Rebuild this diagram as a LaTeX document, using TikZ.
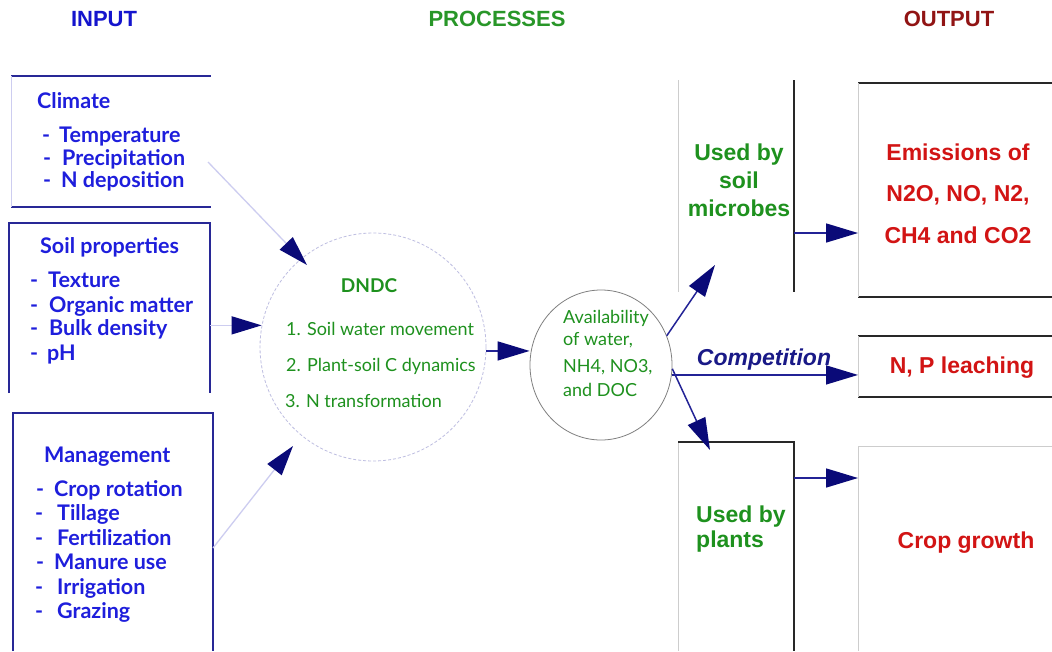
\documentclass[tikz,border=0pt]{standalone}
\usepackage{fontspec}
\setmainfont{Lato}
\newfontfamily\gill{Lato}
\newfontfamily\arial{Liberation Sans}
\usetikzlibrary{arrows.meta,shapes.geometric}
\definecolor{inblue}{RGB}{30,30,220}
\definecolor{hblue}{RGB}{20,20,205}
\definecolor{boxnavy}{RGB}{40,40,150}
\definecolor{arrnavy}{RGB}{10,10,120}
\definecolor{linenavy}{RGB}{35,35,150}
\definecolor{faintblue}{RGB}{205,205,240}
\definecolor{ellgray}{RGB}{190,190,225}
\definecolor{dgreen}{RGB}{30,145,30}
\definecolor{hgreen}{RGB}{40,150,40}
\definecolor{dred}{RGB}{210,20,20}
\definecolor{hred}{RGB}{145,20,20}
\definecolor{lgray}{RGB}{205,205,205}
\definecolor{dgray}{RGB}{40,40,40}
\definecolor{compnavy}{RGB}{25,25,135}
\tikzset{
  ghost/.style={inner sep=0pt, outer sep=0pt},
  hdr/.style={anchor=base, inner sep=0pt, font=\arial\bfseries\fontsize{22}{24}\selectfont},
  intxt/.style={anchor=base west, inner sep=0pt, text=inblue, font=\gill\bfseries\fontsize{21.5}{23}\selectfont},
  proctxt/.style={anchor=base west, inner sep=0pt, text=dgreen, font=\gill\fontsize{18}{20}\selectfont},
  gtxt/.style={anchor=base, inner sep=0pt, text=dgreen, font=\arial\bfseries\fontsize{23}{25}\selectfont},
  rtxt/.style={anchor=base, inner sep=0pt, text=dred, font=\arial\bfseries\fontsize{23}{25}\selectfont},
  navyedge/.style={draw=boxnavy, line width=1.6pt},
  darkedge/.style={draw=dgray, line width=1.4pt},
  lightedge/.style={draw=lgray, line width=1pt},
  faintedge/.style={draw=faintblue, line width=1pt},
  inarrow/.style={draw=faintblue, line width=1.3pt, -{Triangle[length=30pt,width=18pt,fill=arrnavy,color=arrnavy]}},
  outarrow/.style={draw=linenavy, line width=1.5pt, -{Triangle[length=32pt,width=19pt,fill=arrnavy,color=arrnavy]}}
}
\begin{document}
\begin{tikzpicture}[x=1pt,y=-1pt]
\useasboundingbox (0,0) rectangle (1052,651);
\fill[white] (0,0) rectangle (1052,651);

% headers
\node[hdr, text=hblue] (hin) at (104,26) {INPUT};
\node[hdr, text=hgreen] (hproc) at (497,26) {PROCESSES};
\node[hdr, text=hred] (hout) at (949,26) {OUTPUT};

% box frames (invisible nodes)
\node[ghost, minimum width=200pt, minimum height=131pt] (climate) at (111,141.5) {};
\node[ghost, minimum width=201pt, minimum height=170pt] (soil) at (109.5,308) {};
\node[ghost, minimum width=200pt, minimum height=238pt] (mgmt) at (113,532) {};
\node[ghost, minimum width=116pt, minimum height=212pt] (micro) at (736,186) {};
\node[ghost, minimum width=194pt, minimum height=214pt] (emis) at (955,190) {};
\node[ghost, minimum width=194pt, minimum height=61pt] (leach) at (955,366.5) {};
\node[ghost, minimum width=116pt, minimum height=209pt] (plants) at (736,546.5) {};
\node[ghost, minimum width=194pt, minimum height=205pt] (crop) at (955,548.5) {};

% climate box
\draw[navyedge] (climate.north west) -- (climate.north east);
\draw[navyedge] (climate.south west) -- (climate.south east);
\draw[faintedge] (climate.north west) -- (climate.south west);
% soil box
\draw[navyedge] (soil.south west) -- (soil.north west) -- (soil.north east) -- (soil.south east);
% management box
\draw[navyedge] (mgmt.south west) -- (mgmt.north west) -- (mgmt.north east) -- (mgmt.south east);
% microbes
\draw[lightedge] (micro.north west) -- (micro.south west);
\draw[darkedge] (micro.north east) -- (micro.south east);
% emissions
\draw[darkedge] (emis.north west) -- (emis.north east);
\draw[darkedge] (emis.south west) -- (emis.south east);
\draw[lightedge] (emis.north west) -- (emis.south west);
% leaching
\draw[darkedge] (leach.north west) -- (leach.north east);
\draw[darkedge] (leach.south west) -- (leach.south east);
\draw[lightedge] (leach.north west) -- (leach.south west);
% plants
\draw[lightedge] (plants.north west) -- (plants.south west);
\draw[darkedge] (plants.north west) -- (plants.north east) -- (plants.south east);
% crop
\draw[lightedge] (crop.north east) -- (crop.north west) -- (crop.south west);

% ellipses
\node[ellipse, draw=ellgray, dashed, dash pattern=on 3pt off 2pt, line width=0.8pt, minimum width=226pt, minimum height=228pt, inner sep=0pt] (dndc) at (373,347) {};
\node[ellipse, draw=gray, line width=0.8pt, minimum width=142pt, minimum height=150pt, inner sep=0pt] (avail) at (601,365) {};

% input texts
\node[intxt] (c0) at (37,108) {Climate};
\node[intxt] (c1) at (59,142) {\llap{\makebox[17pt][l]{-}}Temperature};
\node[intxt] (c2) at (62,165) {\llap{\makebox[19pt][l]{-}}Precipitation};
\node[intxt] (c3) at (61,187) {\llap{\makebox[18pt][l]{-}}N deposition};

\node[intxt] (s0) at (40,253) {Soil properties};
\node[intxt] (s1) at (48,287) {\llap{\makebox[18pt][l]{-}}Texture};
\node[intxt] (s2) at (49,312) {\llap{\makebox[19pt][l]{-}}Organic matter};
\node[intxt] (s3) at (49,335) {\llap{\makebox[19pt][l]{-}}Bulk density};
\node[intxt] (s4) at (47,360) {\llap{\makebox[17pt][l]{-}}pH};

\node[intxt] (m0) at (44,462) {Management};
\node[intxt] (m1) at (54,496) {\llap{\makebox[18pt][l]{-}}Crop rotation};
\node[intxt] (m2) at (57,520) {\llap{\makebox[22pt][l]{-}}Tillage};
\node[intxt] (m3) at (57,545) {\llap{\makebox[22pt][l]{-}}Fertilization};
\node[intxt] (m4) at (54,569) {\llap{\makebox[18pt][l]{-}}Manure use};
\node[intxt] (m5) at (57,594) {\llap{\makebox[22pt][l]{-}}Irrigation};
\node[intxt] (m6) at (57,618) {\llap{\makebox[22pt][l]{-}}Grazing};

% process texts
\node[anchor=base, inner sep=0pt, text=dgreen, font=\gill\bfseries\fontsize{19}{21}\selectfont] (dn) at (369,292) {DNDC};
\node[proctxt] (p1) at (286,335) {1. Soil water movement};
\node[proctxt] (p2) at (286,371) {2. Plant-soil C dynamics};
\node[proctxt] (p3) at (285,407) {3. N transformation};

\node[proctxt] (a1) at (563,323) {Availability};
\node[proctxt] (a2) at (563,345) {of water,};
\node[proctxt] (a3) at (563,372) {NH4, NO3,};
\node[proctxt] (a4) at (563,396) {and DOC};

% output-side texts
\node[gtxt] (u1) at (739,160) {Used by};
\node[gtxt] (u2) at (739,188) {soil};
\node[gtxt] (u3) at (739,216) {microbes};
\node[gtxt, anchor=base west] (v1) at (696,522) {Used by};
\node[gtxt, anchor=base west] (v2) at (696,547) {plants};

\node[rtxt] (e1) at (958,160) {Emissions of};
\node[rtxt] (e2) at (958,201) {N2O, NO, N2,};
\node[rtxt] (e3) at (958,243) {CH4 and CO2};
\node[rtxt] (lch) at (962,373) {N, P leaching};
\node[rtxt] (cg) at (966,548) {Crop growth};

\node[anchor=base, inner sep=0pt, text=compnavy, font=\arial\bfseries\itshape\fontsize{23}{25}\selectfont] (comp) at (764,365) {Competition};

% arrow end points
\coordinate (ctip) at (307,265);
\coordinate (mtip) at (293,446);
\coordinate (mictip) at (715,265);
\coordinate (ptip) at (710,450);

% input arrows
\draw[inarrow] ([xshift=-3pt,yshift=-20.5pt]climate.east) -- (ctip);
\draw[inarrow] (soil.east |- dndc.169) -- (dndc.169);
\draw[inarrow] ([yshift=-16pt]mgmt.east) -- (mtip);

% process arrows
\draw[outarrow] (dndc.358) -- (dndc.358 -| avail.west);
\draw[outarrow] (avail.24) -- (mictip);
\draw[outarrow] (avail.352) -- (avail.352 -| leach.west);
\draw[outarrow] (avail.357) -- (ptip);
\draw[outarrow] ([yshift=-47pt]micro.east) -- ([yshift=-47pt]micro.east -| emis.west);
\draw[outarrow] ([yshift=68.5pt]plants.east) -- ([yshift=68.5pt]plants.east -| crop.west);
\end{tikzpicture}
\end{document}
